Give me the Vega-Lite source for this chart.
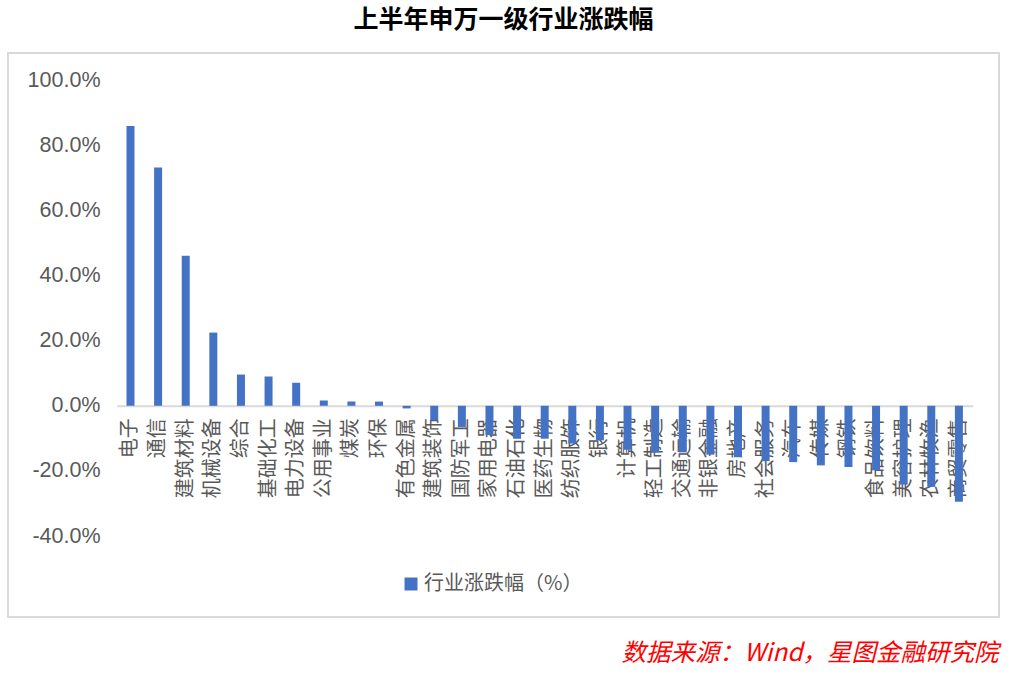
{
  "$schema": "https://vega.github.io/schema/vega-lite/v6.json",
  "width": 991,
  "height": 564,
  "autosize": {"type": "none"},
  "padding": {"left": 8, "top": 53, "right": 15, "bottom": 59},
  "background": "white",
  "title": {"text": "上半年申万一级行业涨跌幅", "fontSize": 25, "fontWeight": "bold", "color": "#000000", "font": "Noto Sans CJK SC", "anchor": "middle", "offset": 20},
  "config": {"view": {"stroke": "#d9d9d9", "strokeWidth": 2}},
  "data": {"values": [
    {"industry": "电子", "change": 86.0, "series": "行业涨跌幅（%）"},
    {"industry": "通信", "change": 73.2, "series": "行业涨跌幅（%）"},
    {"industry": "建筑材料", "change": 46.1, "series": "行业涨跌幅（%）"},
    {"industry": "机械设备", "change": 22.5, "series": "行业涨跌幅（%）"},
    {"industry": "综合", "change": 9.6, "series": "行业涨跌幅（%）"},
    {"industry": "基础化工", "change": 9.0, "series": "行业涨跌幅（%）"},
    {"industry": "电力设备", "change": 7.1, "series": "行业涨跌幅（%）"},
    {"industry": "公用事业", "change": 1.6, "series": "行业涨跌幅（%）"},
    {"industry": "煤炭", "change": 1.3, "series": "行业涨跌幅（%）"},
    {"industry": "环保", "change": 1.3, "series": "行业涨跌幅（%）"},
    {"industry": "有色金属", "change": -0.8, "series": "行业涨跌幅（%）"},
    {"industry": "建筑装饰", "change": -4.4, "series": "行业涨跌幅（%）"},
    {"industry": "国防军工", "change": -6.5, "series": "行业涨跌幅（%）"},
    {"industry": "家用电器", "change": -9.0, "series": "行业涨跌幅（%）"},
    {"industry": "石油石化", "change": -10.1, "series": "行业涨跌幅（%）"},
    {"industry": "医药生物", "change": -10.1, "series": "行业涨跌幅（%）"},
    {"industry": "纺织服饰", "change": -11.6, "series": "行业涨跌幅（%）"},
    {"industry": "银行", "change": -10.6, "series": "行业涨跌幅（%）"},
    {"industry": "计算机", "change": -13.5, "series": "行业涨跌幅（%）"},
    {"industry": "轻工制造", "change": -14.3, "series": "行业涨跌幅（%）"},
    {"industry": "交通运输", "change": -14.3, "series": "行业涨跌幅（%）"},
    {"industry": "非银金融", "change": -15.0, "series": "行业涨跌幅（%）"},
    {"industry": "房地产", "change": -15.8, "series": "行业涨跌幅（%）"},
    {"industry": "社会服务", "change": -17.0, "series": "行业涨跌幅（%）"},
    {"industry": "汽车", "change": -17.3, "series": "行业涨跌幅（%）"},
    {"industry": "传媒", "change": -18.3, "series": "行业涨跌幅（%）"},
    {"industry": "钢铁", "change": -18.8, "series": "行业涨跌幅（%）"},
    {"industry": "食品饮料", "change": -19.8, "series": "行业涨跌幅（%）"},
    {"industry": "美容护理", "change": -24.2, "series": "行业涨跌幅（%）"},
    {"industry": "农林牧渔", "change": -24.9, "series": "行业涨跌幅（%）"},
    {"industry": "商贸零售", "change": -29.5, "series": "行业涨跌幅（%）"}
  ]},
  "mark": {"type": "bar", "color": "#4472C4"},
  "encoding": {
    "x": {
      "field": "industry", "type": "nominal", "sort": null,
      "scale": {"range": [108.7, 964.7], "paddingInner": 0.7105, "paddingOuter": 0.355},
      "axis": {"orient": "bottom", "offset": -211.2, "domain": true, "domainColor": "#d9d9d9", "domainWidth": 2, "ticks": false, "labelAngle": -90, "labelPadding": 12, "labelFontSize": 20, "labelColor": "#595959", "labelFont": "Noto Sans CJK SC", "labelOverlap": false, "labelLimit": 200, "title": null}
    },
    "y": {
      "field": "change", "type": "quantitative",
      "scale": {"domain": [-64.88, 108.39], "nice": false, "zero": false},
      "axis": {
        "values": [-40, -20, 0, 20, 40, 60, 80, 100],
        "labelExpr": "(datum.value < 0 ? '-' : '') + format(abs(datum.value), '.1f') + '%'",
        "grid": false, "domain": false, "ticks": false, "offset": -94, "labelPadding": 2,
        "labelFontSize": 21.5, "labelColor": "#595959", "labelFont": "Liberation Sans",
        "title": "数据来源：Wind，星图金融研究院", "titleAngle": 0, "titleAlign": "right", "titleBaseline": "middle",
        "titleX": 896, "titleY": 600.5, "titleFontSize": 24.5, "titleFontStyle": "italic", "titleFontWeight": "normal",
        "titleColor": "#FF0000", "titleFont": "Noto Sans CJK SC"
      }
    },
    "y2": {"datum": 0},
    "color": {
      "field": "series", "type": "nominal", "scale": {"range": ["#4472C4"]},
      "legend": {"orient": "none", "legendX": 393, "legendY": 521, "title": null, "symbolType": "square", "symbolSize": 169, "labelFontSize": 20, "labelColor": "#595959", "labelFont": "Noto Sans CJK SC", "labelOffset": 3, "padding": 0}
    }
  }
}
